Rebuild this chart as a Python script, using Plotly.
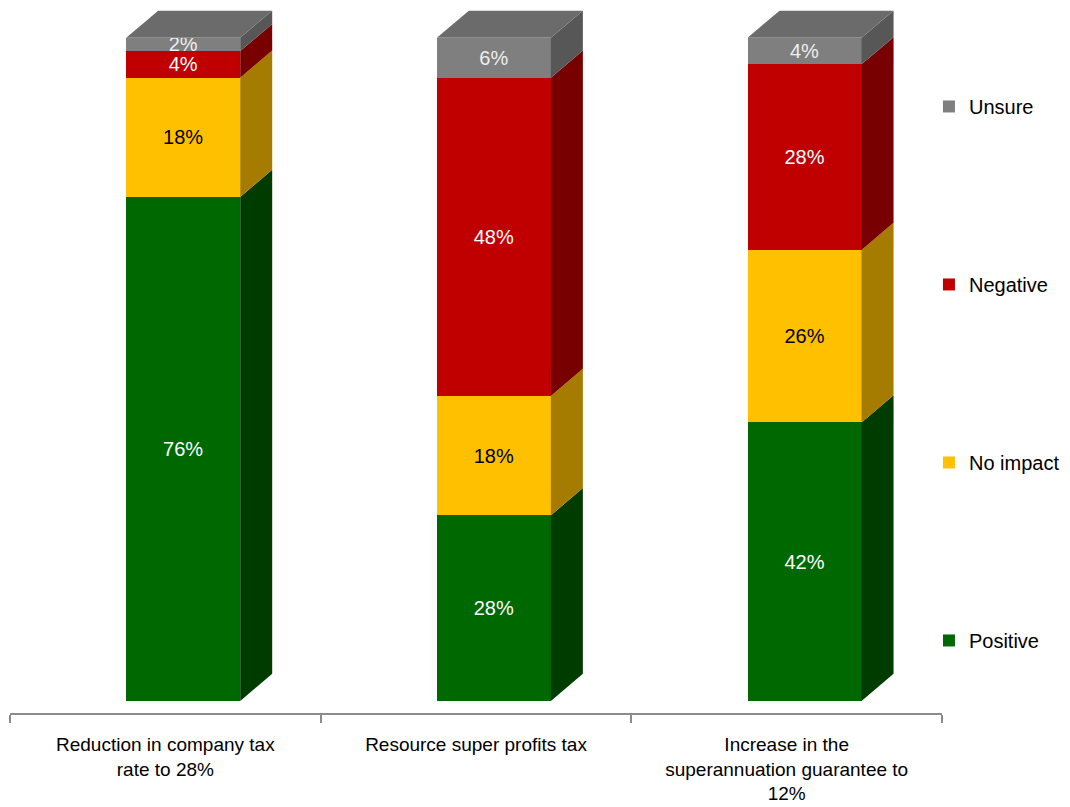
import plotly.graph_objects as go

categories = ["Reduction in company tax<br>rate to 28%",
              "Resource super profits tax",
              "Increase in the<br>superannuation guarantee to<br>12%"]
series = ["Positive", "No impact", "Negative", "Unsure"]
positive = [76, 28, 42]
no_impact = [18, 18, 26]
negative = [4, 48, 28]
unsure = [2, 6, 4]
values = [positive, no_impact, negative, unsure]

front = ["#006800", "#ffc000", "#c00000", "#7f7f7f"]
side = ["#003c00", "#a67c00", "#780000", "#575757"]
label_col = ["white", "black", "white", "#eeeeee"]

xs = [0, 1, 2]
bw = 0.367      # front face width
off = -0.126    # front face offset from category centre
dx = 0.103      # depth in x units
dy = 4.1        # depth in y units

fig = go.Figure()

for k in range(4):
    fig.add_trace(go.Bar(
        x=xs, y=values[k], name=series[k],
        width=bw, offset=off,
        marker=dict(color=front[k], line=dict(width=0)),
        text=[f"{v}%" for v in values[k]],
        textposition="inside", insidetextanchor="middle",
        textangle=0, constraintext="none",
        textfont=dict(color=label_col[k], size=20, family="Arial, Liberation Sans"),
        legendgroup=series[k], legendrank=4 - k,
        hoverinfo="skip",
    ))

# 3D side faces and top face, computed from the stacked values
for i, x in enumerate(xs):
    base = 0
    xr = x + off + bw
    for k in range(4):
        top = base + values[k][i]
        fig.add_trace(go.Scatter(
            x=[xr, xr + dx, xr + dx, xr, xr],
            y=[base, base + dy, top + dy, top, base],
            mode="lines", fill="toself", fillcolor=side[k],
            line=dict(width=0), showlegend=False, hoverinfo="skip"))
        base = top
    xl = x + off
    fig.add_trace(go.Scatter(
        x=[xl, xl + dx, xr + dx, xr, xl],
        y=[base, base + dy, base + dy, base, base],
        mode="lines", fill="toself", fillcolor="#6b6b6b",
        line=dict(width=0), showlegend=False, hoverinfo="skip"))

fig.update_layout(
    width=1062, height=799,
    margin=dict(l=2, r=128, t=0, b=94),
    barmode="stack",
    plot_bgcolor="white", paper_bgcolor="white",
    font=dict(family="Arial, Liberation Sans", size=20, color="black"),
    showlegend=True,
    legend=dict(x=0.986, xanchor="left", y=0.888, yanchor="top",
                traceorder="grouped", tracegroupgap=149,
                font=dict(size=20), bgcolor="rgba(0,0,0,0)"),
    xaxis=dict(range=[-0.5, 2.5], tickvals=xs, ticktext=categories,
               ticks="", showline=True, linecolor="#8c8c8c", linewidth=2,
               showgrid=False, zeroline=False, ticklabelstandoff=13,
               tickfont=dict(size=19), automargin=False,
               minor=dict(tickvals=[-0.5, 0.5, 1.5, 2.5], ticks="outside",
                          ticklen=8, tickcolor="#8c8c8c", tickwidth=2,
                          showgrid=False)),
    yaxis=dict(range=[-1.81, 104.5], visible=False),
)

fig.write_html("out.html")
